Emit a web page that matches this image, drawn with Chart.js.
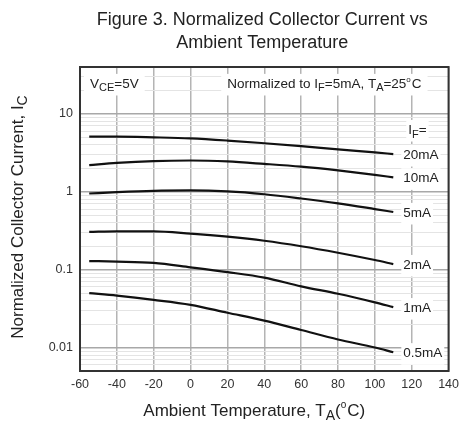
<!DOCTYPE html>
<html>
<head>
<meta charset="utf-8">
<script src="https://cdn.jsdelivr.net/npm/chart.js@4.4.1/dist/chart.umd.min.js"></script>
<style>
html, body { margin: 0; padding: 0; background: #fff; }
</style>
</head>
<body>
<canvas id="chrCollectorCurrent" width="465" height="423"></canvas>
<script>
// Figure 3 - Normalized collector current vs ambient temperature

/******************************** data */
const temps   = [-55, -40, -20, 0, 20, 40, 60, 80, 100, 110];
const ic20mA  = [5.1, 5.1, 5.0, 4.85, 4.55, 4.2, 3.85, 3.5, 3.2, 3.05];
const ic10mA  = [2.2, 2.35, 2.48, 2.52, 2.45, 2.28, 2.1, 1.88, 1.65, 1.53];
const ic5mA   = [0.95, 0.99, 1.03, 1.04, 1.01, 0.93, 0.82, 0.71, 0.6, 0.55];
const ic2mA   = [0.305, 0.31, 0.31, 0.29, 0.265, 0.235, 0.2, 0.165, 0.133, 0.118];
const ic1mA   = [0.129, 0.127, 0.122, 0.107, 0.093, 0.079, 0.061, 0.049, 0.038, 0.033];
const ic05mA  = [0.050, 0.0464, 0.041, 0.0354, 0.028, 0.0222, 0.0168, 0.0127, 0.0100, 0.0087];
const curveLabels = ['20mA', '10mA', '5mA', '2mA', '1mA', '0.5mA'];
const xTickValues = [-60, -40, -20, 0, 20, 40, 60, 80, 100, 120, 140];
const yTickLabels = [0.01, 0.1, 1, 10];

const FONT = '"Liberation Sans", Arial, sans-serif';
const SUB = 0.8;  // subscript scale
const SUP = 0.6;  // superscript scale

/******************************** text helper (sub / superscripts) */
partFont = (p, size) => (p.sub ? Math.round(size * SUB) : (p.sup ? Math.round(size * SUP) : size)) + 'px ' + FONT;

measureRich = (ctx, parts, size) => {
    let w = 0;
    parts.forEach(p => {
        ctx.font = partFont(p, size);
        p.w = ctx.measureText(p.t).width + (p.sup ? 1 : 0);
        w += p.w;
    });
    return w;
};

drawRich = (ctx, parts, x, y, size, align) => {
    const w = measureRich(ctx, parts, size);
    let cx = align === 'center' ? x - w / 2 : (align === 'right' ? x - w : x);
    ctx.textAlign = 'left';
    ctx.textBaseline = 'middle';
    parts.forEach(p => {
        ctx.font = partFont(p, size);
        let dy = p.sub ? size * 0.33 : (p.sup ? -size * 0.32 : 0);
        ctx.fillText(p.t, cx, y + dy);
        cx += p.w;
    });
    return w;
};

boxedText = (ctx, parts, x, y, size, align, pad) => {
    const w = measureRich(ctx, parts, size);
    const left = align === 'center' ? x - w / 2 : (align === 'right' ? x - w : x);
    ctx.fillStyle = '#fff';
    ctx.fillRect(left - pad, y - size * 0.75, w + pad * 2, size * 1.6);
    ctx.fillStyle = '#222';
    drawRich(ctx, parts, x, y, size, align);
};

/******************************** plugin: labels, titles, frame */
const figureText = {
    id: 'figureText',
    afterDatasetsDraw: (chart) => {
        const ctx = chart.ctx;
        const xs = chart.scales.x, ys = chart.scales.y;
        const area = chart.chartArea;
        ctx.save();
        // curve labels at the right end
        const lastX = xs.getPixelForValue(temps[temps.length - 1]) + 10;
        chart.data.datasets.forEach((ds, i) => {
            const py = ys.getPixelForValue(ds.data[ds.data.length - 1]) + 1;
            boxedText(ctx, [{ t: curveLabels[i] }], lastX, py, 13.5, 'left', 2);
        });
        const py20 = ys.getPixelForValue(ic20mA[ic20mA.length - 1]);
        boxedText(ctx, [{ t: 'I' }, { t: 'F', sub: true }, { t: '=' }], lastX + 5, py20 - 24, 13.5, 'left', 2);

        // conditions at top
        boxedText(ctx, [{ t: 'V' }, { t: 'CE', sub: true }, { t: '=5V' }], area.left + 10, 84, 13.5, 'left', 6);
        boxedText(ctx, [{ t: 'Normalized to I' }, { t: 'F', sub: true }, { t: '=5mA, T' }, { t: 'A', sub: true },
                        { t: '=25' }, { t: 'o', sup: true }, { t: 'C' }], area.right - 27, 84, 13.5, 'right', 6);
        ctx.restore();
    },
    afterDraw: (chart) => {
        const ctx = chart.ctx;
        const area = chart.chartArea;
        ctx.save();
        // frame
        ctx.strokeStyle = '#333';
        ctx.lineWidth = 2;
        ctx.strokeRect(area.left, area.top, area.right - area.left, area.bottom - area.top);

        const cx = (area.left + area.right) / 2;
        ctx.fillStyle = '#222';
        drawRich(ctx, [{ t: 'Figure 3. Normalized Collector Current vs' }], cx - 2, 20, 18, 'center');
        drawRich(ctx, [{ t: 'Ambient Temperature' }], cx - 2, 43, 18, 'center');

        drawRich(ctx, [{ t: 'Ambient Temperature, T' }, { t: 'A', sub: true }, { t: '(' }, { t: 'o', sup: true }, { t: 'C)' }],
                 cx - 10, 411, 17, 'center');

        ctx.translate(18, (area.top + area.bottom) / 2 - 2);
        ctx.rotate(-Math.PI / 2);
        drawRich(ctx, [{ t: 'Normalized Collector Current, I' }, { t: 'C', sub: true }], 0, 0, 17, 'center');
        ctx.restore();
    }
};

/******************************** chart */
isDecade = (v) => Math.abs(Math.log10(v) - Math.round(Math.log10(v))) < 1e-6;

chrCollectorCurrent = () => {
    const series = [ic20mA, ic10mA, ic5mA, ic2mA, ic1mA, ic05mA];
    const ctx = document.getElementById('chrCollectorCurrent').getContext('2d');
    new Chart(ctx, {
        type: 'line',
        data: {
            labels: temps,
            datasets: series.map((s, i) => ({
                label: curveLabels[i],
                data: s,
                borderColor: '#111',
                borderWidth: 2.2,
                pointRadius: 0,
                cubicInterpolationMode: 'monotone',
                fill: false
            }))
        },
        options: {
            responsive: false,
            animation: false,
            devicePixelRatio: 1,
            layout: { padding: { top: 67, right: 10, left: 0, bottom: 0 } },
            plugins: {
                legend: { display: false },
                title: { display: false },
                tooltip: { enabled: false }
            },
            scales: {
                x: {
                    type: 'linear',
                    min: -60,
                    max: 140,
                    afterBuildTicks: (scale) => { scale.ticks = xTickValues.map(v => ({ value: v })); },
                    afterFit: (scale) => { scale.height = 52; },
                    ticks: { color: '#333', font: { family: FONT, size: 12.5 }, padding: 6, maxRotation: 0 },
                    grid: { color: '#b4b4b4', lineWidth: 1.5, drawTicks: false },
                    border: { display: false }
                },
                y: {
                    type: 'logarithmic',
                    min: 0.005,
                    max: 40,
                    afterBuildTicks: (scale) => {
                        const t = [];
                        [0.001, 0.01, 0.1, 1, 10].forEach(d => {
                            for (let m = 1; m <= 9; m++) {
                                const v = +(d * m).toPrecision(3);
                                if (v >= 0.005 && v <= 40) t.push({ value: v });
                            }
                        });
                        t.push({ value: 40 });
                        scale.ticks = t;
                    },
                    afterFit: (scale) => { scale.width = 80; },
                    ticks: {
                        color: '#333',
                        font: { family: FONT, size: 12.5 },
                        padding: 7,
                        autoSkip: false,
                        callback: (v) => yTickLabels.find(l => Math.abs(l - v) < l * 1e-6) !== undefined ? String(v) : ''
                    },
                    grid: {
                        drawTicks: false,
                        color: (c) => isDecade(c.tick.value) ? '#a8a8a8' : '#e4e4e4',
                        lineWidth: (c) => isDecade(c.tick.value) ? 1.5 : 1
                    },
                    border: { display: false }
                }
            }
        },
        plugins: [figureText]
    });
};

chrCollectorCurrent();
</script>
</body>
</html>
